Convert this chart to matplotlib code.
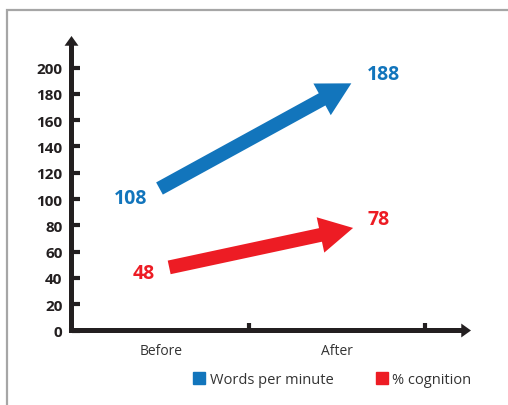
import matplotlib.pyplot as plt
from matplotlib.patches import FancyArrowPatch, Rectangle
from matplotlib.lines import Line2D

plt.rcParams['font.family'] = ['Open Sans', 'DejaVu Sans']

# data
categories = ['Before', 'After']
series_names = ['Words per minute', '% cognition']
words_per_minute = [108, 188]
cognition = [48, 78]
colors = ['#1275BC', '#ED1C24']
yticks = list(range(0, 201, 20))

DARK = '#231F20'

fig = plt.figure(figsize=(5.08, 4.06), dpi=100)
ax = fig.add_axes([71.5 / 508, 74.5 / 406, (471 - 71.5) / 508, (331.5 - 37) / 406])
ax.set_xlim(-0.51, 1.76)
ax.set_ylim(0, 224)
for s in ax.spines.values():
    s.set_visible(False)

# axis lines with arrow heads
ax_style = 'simple,head_length=7,head_width=10,tail_width=3.6'
ax.add_patch(FancyArrowPatch((0, -0.0085), (0, 1), transform=ax.transAxes, arrowstyle=ax_style,
                             mutation_scale=1, shrinkA=0, shrinkB=0, color=DARK, lw=0, clip_on=False))
ax.add_patch(FancyArrowPatch((-0.0063, 0), (1, 0), transform=ax.transAxes, arrowstyle=ax_style,
                             mutation_scale=1, shrinkA=0, shrinkB=0, color=DARK, lw=0, clip_on=False))

# ticks
ax.set_yticks(yticks)
ax.set_yticklabels([str(v) for v in yticks], fontweight='bold', fontsize=11, color=DARK)
ax.tick_params(axis='y', direction='in', length=5.5, width=3, color=DARK, pad=6.5)
ax.set_xticks(range(len(categories)))
ax.set_xticklabels(categories, fontsize=10, color='#333333')
ax.tick_params(axis='x', which='major', length=0, pad=9)
ax.set_xticks([0.5, 1.5], minor=True)
ax.tick_params(axis='x', which='minor', direction='in', length=5.5, width=3, color=DARK)

# thick arrows Before -> After
arrow_style = 'simple,head_length=24,head_width=26,tail_width=10'
offsets = [(-0.01, 0.08), (0.045, 0.09)]
for vals, col, (o0, o1) in zip([words_per_minute, cognition], colors, offsets):
    ax.add_patch(FancyArrowPatch((0 + o0, vals[0]), (1 + o1, vals[1]), arrowstyle=arrow_style,
                                 mutation_scale=1, shrinkA=0, shrinkB=0, color=col, lw=0))

# value labels
label_offsets = [((-10, -7), (21, 7)), ((-5, -4), (22, 6.5))]
for vals, col, (off0, off1) in zip([words_per_minute, cognition], colors, label_offsets):
    ax.annotate(str(vals[0]), (0, vals[0]), xytext=off0, textcoords='offset points',
                ha='right', va='center', fontsize=14, fontweight='bold', color=col)
    ax.annotate(str(vals[1]), (1, vals[1]), xytext=off1, textcoords='offset points',
                ha='left', va='center', fontsize=14, fontweight='bold', color=col)

# legend
handles = [Line2D([], [], marker='s', linestyle='none', markersize=8.6, color=c) for c in colors]
fig.legend(handles, series_names, loc='center', bbox_to_anchor=(331.5 / 508, 1 - 381 / 406),
           ncol=2, frameon=False, fontsize=10.5, labelcolor='#333333', handletextpad=0.2,
           columnspacing=2.8, handlelength=1.0)

# grey frame
fig.patches.append(Rectangle((7 / 508, -0.1), 1.2, 1.1 - 11 / 406, transform=fig.transFigure,
                             fill=False, edgecolor='#A6A6A6', lw=1.6, figure=fig))

fig.savefig('out.png', dpi=100)
